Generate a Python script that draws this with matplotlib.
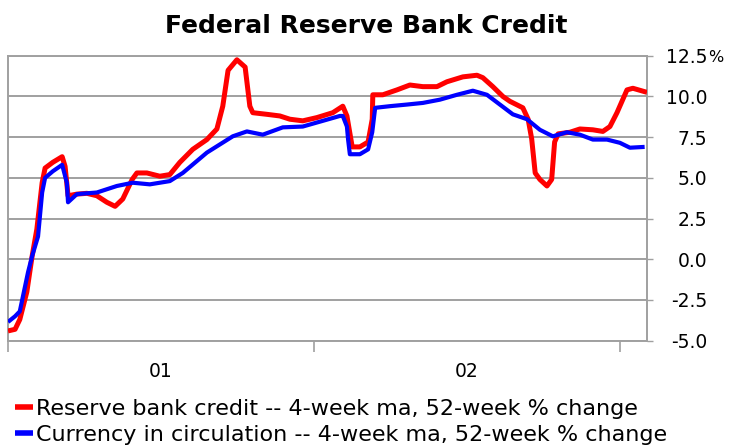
import numpy as np
import matplotlib
matplotlib.use('Agg')
import matplotlib.pyplot as plt
plt.rcParams['font.family'] = ['DejaVu Sans']

# weeks since start of 2000 (52 weeks per year)
credit_weeks = [0, 1.2, 2.0, 3.2, 4.1, 4.9, 5.8, 6.3, 7.6, 9.2, 9.7, 10.2, 11.7, 13.4, 15.1,
                16.8, 18.2, 19.5, 21.1, 21.9, 23.6, 25.8, 27.5, 29.2, 31.4, 33.8, 35.5, 36.5,
                37.4, 38.9, 40.3, 41.1, 41.6, 44.0, 46.2, 47.9, 50.1, 52.5, 55.2, 56.9, 57.6,
                58.5, 59.8, 61.2, 61.9, 62.0, 63.7, 66.1, 68.3, 70.5, 72.9, 74.6, 77.3, 79.7,
                80.7, 82.4, 84.1, 85.3, 87.5, 88.4, 89.0, 89.6, 90.4, 91.6, 92.4, 92.9, 93.5,
                95.5, 97.2, 99.4, 101.1, 102.3, 103.5, 105.2, 106.2, 108.6]
credit = [-4.4, -4.3, -3.7, -2.0, 0.2, 1.85, 4.7, 5.6, 5.95, 6.3, 5.7, 3.9, 4.0, 4.05, 3.9,
          3.5, 3.25, 3.7, 4.9, 5.3, 5.3, 5.1, 5.2, 5.95, 6.75, 7.35, 8.0, 9.4,
          11.6, 12.25, 11.8, 9.4, 9.0, 8.9, 8.8, 8.6, 8.5, 8.7, 9.0, 9.4, 8.8,
          6.9, 6.9, 7.2, 8.6, 10.1, 10.1, 10.4, 10.7, 10.6, 10.6, 10.9, 11.2, 11.3,
          11.15, 10.6, 10.0, 9.7, 9.3, 8.6, 7.4, 5.3, 4.9, 4.5, 4.9, 7.2, 7.7,
          7.8, 8.0, 7.95, 7.85, 8.15, 9.0, 10.4, 10.5, 10.25]

currency_weeks = [0, 1.2, 2.0, 3.4, 4.1, 5.1, 5.8, 6.3, 7.6, 9.2, 10.0, 10.2, 11.7, 15.1,
                  18.5, 21.2, 24.1, 27.5, 29.7, 33.8, 38.2, 40.6, 43.3, 46.7, 50.1, 53.5,
                  56.4, 56.9, 57.6, 57.8, 58.1, 59.8, 61.2, 61.9, 62.4, 64.9, 67.8, 70.5,
                  73.4, 76.3, 79.0, 81.4, 83.6, 85.8, 88.2, 90.4, 92.6, 95.0, 97.2, 99.4,
                  101.8, 104.0, 105.7, 108.2]
currency = [-3.85, -3.5, -3.2, -0.8, 0.2, 1.4, 4.1, 5.0, 5.4, 5.8, 4.7, 3.5, 4.0, 4.1,
            4.5, 4.7, 4.6, 4.8, 5.3, 6.55, 7.55, 7.85, 7.65, 8.1, 8.15, 8.5,
            8.8, 8.8, 8.15, 7.35, 6.45, 6.45, 6.75, 7.8, 9.3, 9.4, 9.5, 9.6,
            9.8, 10.1, 10.35, 10.1, 9.5, 8.9, 8.6, 7.95, 7.55, 7.8, 7.65, 7.35,
            7.35, 7.15, 6.85, 6.9]

year_labels = ['01', '02']
yticks = [-5.0, -2.5, 0.0, 2.5, 5.0, 7.5, 10.0, 12.5]

fig = plt.figure(figsize=(7.29, 4.47), dpi=100)
ax = fig.add_axes([0.011, 0.2378, 0.8765, 0.6376])

gray = '#a0a0a0'
ax.plot(credit_weeks, credit, color='#ff0000', lw=3.6, solid_capstyle='butt',
        label='Reserve bank credit -- 4-week ma, 52-week % change', zorder=3)
ax.plot(currency_weeks, currency, color='#0000ff', lw=3.0, solid_capstyle='butt',
        label='Currency in circulation -- 4-week ma, 52-week % change', zorder=4)

ax.set_xlim(0, 108.6)
ax.set_ylim(-5, 12.5)
ax.set_yticks(yticks)
ax.yaxis.grid(True, color=gray, lw=1.4)
ax.set_axisbelow(True)
ax.yaxis.tick_right()
ax.set_yticklabels(['%.1f' % v for v in yticks], ha='right')
ax.tick_params(axis='y', length=4, width=1, color=gray, pad=39.5, labelsize=13.5, labelcolor='#000000')

ax.set_xticks([0, 52, 104])
ax.set_xticks([26, 78], minor=True)
ax.set_xticklabels([])
ax.set_xticklabels(year_labels, minor=True)
ax.tick_params(axis='x', which='major', length=8, width=1.2, color=gray)
ax.tick_params(axis='x', which='minor', length=0, pad=15, labelsize=13.5)

for s in ax.spines.values():
    s.set_color(gray)
    s.set_linewidth(1.4)

# the % after the top label
fig.text(708 / 729, 1 - 62 / 447, '%', fontsize=11.5, ha='left', va='baseline')

fig.suptitle('Federal Reserve Bank Credit', x=366 / 729, y=1 - 26 / 447, va='center',
             fontsize=18, fontweight='bold')

leg = ax.legend(loc='upper left', bbox_to_anchor=(15 / 729, 1 - 399 / 447),
                bbox_transform=fig.transFigure, frameon=False, fontsize=16,
                handlelength=0.8, handletextpad=0.15, labelspacing=0.25,
                borderaxespad=0, borderpad=0)
for h in leg.get_lines():
    h.set_linewidth(4)

fig.savefig('out.png', dpi=100)
